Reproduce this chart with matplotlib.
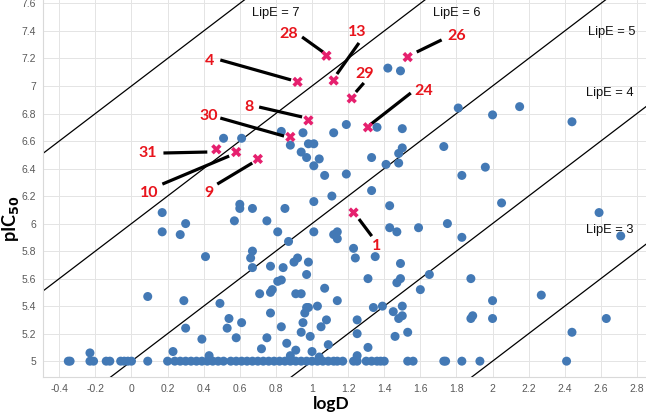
import numpy as np
import matplotlib
matplotlib.use('Agg')
import matplotlib.pyplot as plt

# compounds (blue dots): logD and pIC50
logd = np.array([
    1.81, 2.00, 2.15, 2.44, 1.42, 1.49, 0.51, 0.61, 0.83, 0.88,
    0.95, 1.12, 1.19, 1.36, 1.50, 1.73, 0.98, 1.01, 0.94, 0.97,
    1.04, 1.01, 1.07, 1.19, 1.33, 1.41, 1.48, 1.48, 1.50, 1.33,
    1.11, 1.01, 1.83, 1.96, 2.05, 2.59, 1.43, 0.60, 0.60, 0.67,
    0.85, 0.17, 0.30, 0.57, 0.75, 1.83, 2.71, 1.75,
    0.17, 0.27, 0.81, 0.87, 1.01, 1.12, 1.14, 1.14, 1.43, 1.47,
    1.59, 0.41, 0.67, 0.66, 0.67, 0.77, 0.84, 0.81, 0.83, 1.23,
    1.24, 1.35, 0.90, 0.92, 0.98, 0.97, 1.31, 1.49, 1.49, 1.47,
    1.07, 1.60, 1.65, 0.09, 0.29, 0.49, 0.71, 0.77, 0.78, 0.91,
    0.94, 1.14, 0.77, 0.97, 0.98, 1.03, 0.96, 1.34, 1.39, 1.45,
    1.50, 1.48, 1.50, 0.54, 0.53, 0.61, 0.95, 1.08, 1.25, 0.30,
    0.39, 0.58, 0.83, 0.75, 1.05, 0.94, 0.99, 1.25, 1.46, 1.53,
    0.86, 1.09, 1.88, 2.00, 2.27, 1.89, 1.88, 2.00, 2.63, 2.44,
    -0.23, 0.23, 0.43, 0.72, 0.91, 0.88, 1.00, 1.04, 1.31, 1.25,
])
pic50 = np.array([
    6.84, 6.79, 6.85, 6.74, 7.13, 7.11, 6.62, 6.62, 6.67, 6.57,
    6.66, 6.66, 6.72, 6.70, 6.69, 6.56, 6.58, 6.58, 6.52, 6.48,
    6.47, 6.42, 6.35, 6.36, 6.48, 6.43, 6.44, 6.51, 6.55, 6.24,
    6.20, 6.16, 6.35, 6.41, 6.15, 6.08, 6.13, 6.14, 6.11, 6.11,
    6.11, 6.08, 6.00, 6.02, 6.02, 5.90, 5.91, 6.00,
    5.94, 5.92, 5.94, 5.87, 5.94, 5.92, 5.94, 5.89, 5.97, 5.94,
    5.97, 5.76, 5.80, 5.75, 5.68, 5.69, 5.68, 5.58, 5.59, 5.82,
    5.75, 5.76, 5.72, 5.75, 5.72, 5.63, 5.60, 5.71, 5.60, 5.57,
    5.53, 5.52, 5.63, 5.47, 5.44, 5.42, 5.49, 5.50, 5.52, 5.49,
    5.49, 5.44, 5.35, 5.39, 5.39, 5.40, 5.35, 5.39, 5.40, 5.36,
    5.40, 5.31, 5.33, 5.31, 5.24, 5.28, 5.28, 5.30, 5.30, 5.24,
    5.16, 5.17, 5.25, 5.17, 5.25, 5.21, 5.18, 5.20, 5.18, 5.21,
    5.13, 5.12, 5.60, 5.44, 5.48, 5.33, 5.31, 5.31, 5.31, 5.21,
    5.06, 5.07, 5.04, 5.09, 5.08, 5.04, 5.07, 5.03, 5.10, 5.04,
])

# inactive compounds sitting on pIC50 = 5
logd_floor = np.array([
    -0.35, -0.34, -0.23, -0.21, -0.14, -0.12, -0.06, -0.04, -0.02, 0.0,
    0.09, 0.20, 0.24, 0.27, 0.30, 0.33, 0.36, 0.39, 0.42, 0.45,
    0.48, 0.51, 0.55, 0.58, 0.61, 0.64, 0.67, 0.70, 0.73, 0.76,
    0.79, 0.82, 0.85, 0.88, 0.91, 0.94, 0.97, 1.00, 1.03, 1.06,
    1.09, 1.12, 1.14, 1.17, 1.23, 1.25, 1.30, 1.33, 1.36, 1.38,
    1.40, 1.53, 1.56, 1.73, 1.74, 1.83, 1.93, 2.41,
])
pic50_floor = 5.0

# highlighted compounds
hl_names = ['28', '13', '4', '29', '26', '24', '8', '30', '31', '10', '9', '1']
hl_logd = [1.08, 1.12, 0.92, 1.22, 1.53, 1.31, 0.98, 0.88, 0.47, 0.58, 0.70, 1.23]
hl_pic50 = [7.22, 7.04, 7.03, 6.91, 7.21, 6.70, 6.75, 6.63, 6.54, 6.52, 6.47, 6.08]
# label positions
lab_x = [0.87, 1.25, 0.43, 1.29, 1.80, 1.62, 0.65, 0.43, 0.09, 0.10, 0.43, 1.36]
lab_y = [7.38, 7.39, 7.18, 7.09, 7.36, 6.96, 6.85, 6.78, 6.51, 6.22, 6.22, 5.84]
# leader line start / end
lead_x0 = [0.945, 1.260, 0.492, 1.287, 1.580, 1.547, 0.707, 0.492, 0.177, 0.171, 0.475, 1.260]
lead_y0 = [7.356, 7.313, 7.189, 7.022, 7.247, 6.949, 6.847, 6.767, 6.513, 6.287, 6.287, 6.033]
lead_x1 = [1.061, 1.138, 0.884, 1.243, 1.718, 1.320, 0.945, 0.845, 0.420, 0.541, 0.669, 1.331]
lead_y1 = [7.247, 7.087, 7.044, 6.956, 7.335, 6.716, 6.775, 6.636, 6.520, 6.491, 6.440, 5.909]

# LipE isolines: pIC50 = logD + LipE
lipe = [3, 4, 5, 6, 7]
lipe_lab_x = [2.65, 2.65, 2.66, 1.80, 0.80]
lipe_lab_y = [5.95, 6.95, 7.39, 7.53, 7.53]

xmin, xmax = -0.49, 2.85
ymin, ymax = 4.885, 7.625

fig = plt.figure(figsize=(6.46, 4.13), dpi=100)
ax = fig.add_axes([0.0666, 0.0872, 0.9334, 0.9128])

for v in lipe:
    ax.plot([xmin, xmax], [xmin + v, xmax + v], color='black', lw=0.9, zorder=2)
for v, tx, ty in zip(lipe, lipe_lab_x, lipe_lab_y):
    ax.text(tx, ty, 'LipE = %d' % v, ha='center', va='center', fontsize=9.3,
            family='Liberation Sans', color='#111111', zorder=3)

ax.scatter(logd, pic50, s=42, color='#4379b5', edgecolors='none', zorder=4)
ax.scatter(logd_floor, np.full(len(logd_floor), pic50_floor), s=42,
           color='#4379b5', edgecolors='none', zorder=4)

for i in range(len(hl_names)):
    ax.plot([lead_x0[i], lead_x1[i]], [lead_y0[i], lead_y1[i]], color='black',
            lw=2.3, solid_capstyle='butt', zorder=5)
    ax.text(lab_x[i], lab_y[i], hl_names[i], ha='center', va='center',
            fontsize=11.5, fontweight='bold', family='Lato', color='#e8141c', zorder=6)
ax.scatter(hl_logd, hl_pic50, marker='X', s=55, color='#e6206e', edgecolors='none', zorder=6)

ax.set_xlim(xmin, xmax)
ax.set_ylim(ymin, ymax)
ax.set_xticks(np.round(np.arange(-0.4, 2.81, 0.2), 1))
ax.set_yticks(np.round(np.arange(5.0, 7.61, 0.2), 1))
ax.set_xticklabels(['%g' % t for t in ax.get_xticks()])
ax.set_yticklabels(['%g' % t for t in ax.get_yticks()])
ax.tick_params(length=0, labelsize=7.5, labelcolor='#595959', pad=5)
for lbl in ax.get_xticklabels() + ax.get_yticklabels():
    lbl.set_family('Liberation Sans')
ax.grid(True, color='#e4e4e4', lw=0.7, zorder=0)
ax.set_axisbelow(True)
for side in ['top', 'right']:
    ax.spines[side].set_visible(False)
for side in ['left', 'bottom']:
    ax.spines[side].set_color('#d9d9d9')

ax.set_xlabel('logD', fontsize=12.5, fontweight='bold', family='Lato')
ax.xaxis.set_label_coords(0.478, -0.05)
ax.set_ylabel('pIC$_{\\mathbf{50}}$', fontsize=13, fontweight='bold', family='Lato')
ax.yaxis.set_label_coords(-0.036, 0.42)

fig.savefig('out.png', dpi=100)
